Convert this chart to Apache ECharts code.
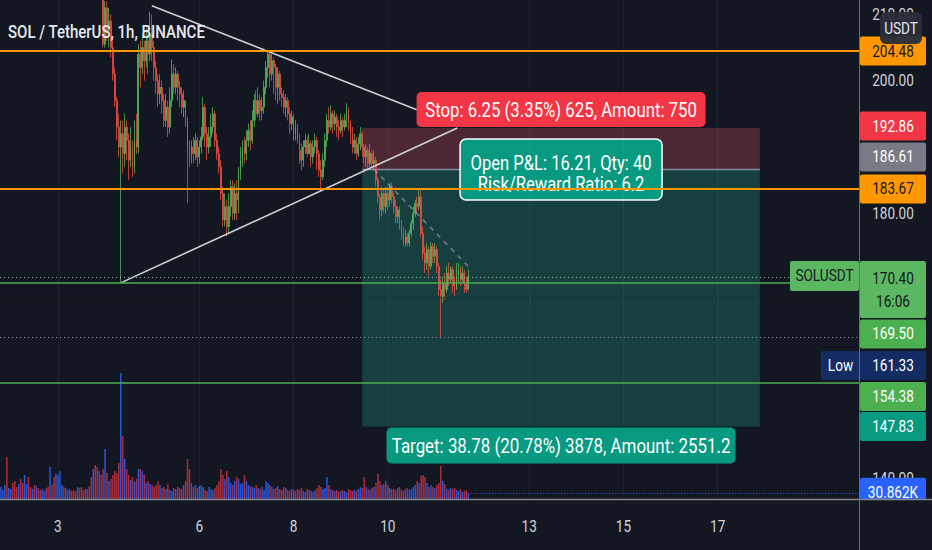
<!DOCTYPE html>
<html><head><meta charset="utf-8">
<script src="https://cdn.jsdelivr.net/npm/echarts@6/dist/echarts.min.js"></script>
<style>html,body{margin:0;padding:0;background:#131722;}#c{width:932px;height:550px;}</style>
</head><body><div id="c"></div>
<script>
// ---------------- data ----------------
const symbolTitle = 'SOL / TetherUS, 1h, BINANCE';
const firstOpen = 227;
const closes = [
228,230,231,229,232,233,231,230,228,229,
227,226,228,229,227,225,226,224,225,223,
222,224,225,223,221,222,220,219,221,222,
224,226,225,227,228,226,225,223,222,224,
223,221,220,218,219,217,216,218,217,215,
216,214,205.5,211,207.5,209,205,201,197,193,
190,192,189,193,191,188,190,187,191,190,
204,202,205,203,206,204,207,205,202,200,
198,199,197,194,196,193,197,201,199,201,
199,198,196,197,194,190,188.5,190,189,191,
188.5,190,191.5,196,192,190,191.5,193,195,191,
189,187,183,179,181,178,181,184,180,183,
182,186,188,190,189,191,192.5,191,194,197,
195,197,195.5,196,199,202,204,201,203,202,
199,201,198,197.5,196,197,195,193.5,194.5,192,
193,191,189.5,188,190,191,189,190.5,188.5,190,
191,189,186.5,185.5,188,191,194,193,195,193.5,
194.5,193,192.5,194,193,194,195.5,193.5,192,190,
191,189,190.5,192,190,188.5,189.5,187.5,189,187.5,
188,185,182.5,180.5,183,181,183,182,184,182.5,
181,179.5,180.5,178,177,175.5,176.5,175.5,177,178.5,
180,181.5,181,182.5,177,174,172.5,174.5,172,175,
173.5,174.5,172,168.5,167.5,169.5,168.5,171,170,171.5,
169,168.5,170.5,171.5,170,171,169.5,168.5,170.4];
const highs = [
230,232,233,232,234,235,234,232,230,231,
230,228,229,231,230,228,227,226,227,226,
224,225,227,226,224,223,223,221,222,224,
226,228,227,229,230,229,227,226,224,225,
225,224,222,221,220,220,218,219,219,218,
217,217,215,212,212,211,210,206,202,197.5,
195,194,194,195,194,192,193,191,194,195,
205.5,206,207,206,208,207,210.4,210,206,203,
201,201,200,198,198,197,199,203.2,202.5,202,
201.5,200,199,198.5,197,194.5,191,191,191.5,192,
191.5,191,193,197.5,196.5,193,193,195,196,195.5,
192,190,188,184,183,182,183,185,185,184.5,
185,187,190,191,191.5,192.5,193.5,194,195.5,198,
198.5,199,198,197.5,200,203,204.5,204.3,204,203.5,
202.5,202,201.5,199,198.5,198,197.5,196,195.5,195,
194,193.5,192,190.5,191,192,191.5,192,191,191,
192,191.5,189.5,188,189,192,195,196,196.3,195.5,
195.5,195,194,195,194.5,195,196.6,196,194,193,
192,191.5,191.5,193,192.5,190.5,190.5,190,190.5,189.5,
189.5,188.5,185.5,183,184,183.5,184,184,184.5,184.7,
183,182,181,181,179,178,177.5,177,177.5,179,
181,182,182.5,183.6,183.5,178,175,175.5,175,175.6,
175.5,175.5,175,172.5,170,170.5,171,172,172.5,172,
172,170.5,172.5,172.5,172,172,171.5,170.5,171.5];
const lows = [
226,227,229,227,228,231,230,228,226,227,
225,224,225,226,225,223,224,222,223,221,
220,221,223,221,219,219,218,217,218,220,
221,223,224,224,226,225,223,222,220,221,
221,219,218,216,217,215,214,215,215,213.5,
213,213,205,205,206,205,203.5,200,196,191,
188.5,169.5,186,187,188,185,187,185.5,186,189,
189,199,201,200,202,201,203,203,200,198,
196,196.5,195,193,193,191.5,192,196,198,198,
197,196,195,194.5,193,181.5,187,187.5,187.5,188,
187,187.5,189,191,190,188,189,190,192,190,
188,186,182,178,178,176.5,177,179.5,179,179,
179,180,185,187,187.5,188,190,189.5,190.5,193,
194,194.5,194,194,195,198,200.5,199,200,198,
197,196.5,197,196,195,194.5,194,192,192.5,191,
191,190.5,187.5,186.5,187,189,188.5,189,187,187.5,
189,186.5,185.5,183.5,185,187,190,192,192.5,192,
192.5,191.5,191,192,191.5,192.5,193,192.5,190.5,189,
189,188,188.5,189.5,188.5,187.5,187,186.5,187,186.5,
186.5,184,181.5,179,179.5,180,180,180.5,181,181.5,
180,178.5,178.5,177.5,176,175,175,175,175,176.5,
177.5,179.5,180,180.5,176.5,173,171,171.5,170.5,171.5,
172.5,172.5,171,167.5,161.33,166.5,167,168,169,169.5,
168,167.5,168.5,169.5,169,169.5,168,168,168.5];
const volumesK = [
60,45,70,210,55,50,80,90,60,75,
100,80,120,75,110,60,50,70,65,55,
45,50,40,55,60,160,70,110,130,120,
140,70,60,55,45,50,40,45,40,60,
55,60,45,50,50,65,110,150,170,160,
140,120,150,250,130,90,100,120,140,130,
180,630,315,200,150,120,95,110,85,100,
150,150,140,120,80,90,75,70,60,70,
90,70,55,60,50,75,45,40,55,50,
60,55,50,70,90,200,150,80,60,70,
55,65,70,60,45,40,60,50,45,55,
70,90,150,120,100,140,110,80,70,90,
110,100,75,80,120,90,70,65,60,55,
70,55,50,60,45,90,80,70,60,50,
55,65,50,45,60,55,45,40,50,45,
40,50,45,55,40,35,50,45,40,35,
45,55,70,60,50,55,110,70,50,45,
40,45,35,40,45,40,35,50,45,40,
45,40,50,60,55,110,60,50,45,55,
60,80,125,90,70,75,90,70,55,50,
50,45,55,60,45,40,50,55,45,50,
60,70,90,80,115,120,110,80,60,70,
60,55,70,80,165,90,75,50,45,55,
50,55,45,40,50,35,40,45,30.862];
const startTimeUTC = Date.UTC(2021, 11, 1, 19);   // first hourly bar
const slotCount = 438;                            // hourly slots across the pane
const dayTicks = [3, 6, 8, 10, 13, 15, 17];        // time-axis labels (day of month)
const priceTicks = [210, 200, 180, 140];           // plain price-scale labels
const resistanceLevels = [204.48, 183.67];         // orange horizontal lines
const supportLevels = [169.50, 154.38];            // green horizontal lines
const sessionLow = 161.33;
const darkDotLevel = 167.4;
const trendUpper = [[76.8, 211.3], [211.8, 195.6]];
const trendLower = [[61, 169.5], [232.4, 192.86]];
const position = { startIdx: 184, endIdx: 386.5, entry: 186.61, stop: 192.86, target: 147.83 };
const positionPath = [[190, 186.61], [238, 172]];
const stopText = 'Stop: 6.25 (3.35%) 625, Amount: 750';
const pnlLines = ['Open P&L: 16.21, Qty: 40', 'Risk/Reward Ratio: 6.2'];
const targetText = 'Target: 38.78 (20.78%) 3878, Amount: 2551.2';
const countdown = '16:06';
const ticker = 'SOLUSDT';
const quoteCurrency = 'USDT';

// ---------------- build ----------------
const BG = '#131722';
const UP = '#53b458', DOWN = '#ea4a40';
const VOL_UP = 'rgba(41,98,255,0.85)', VOL_DOWN = 'rgba(242,54,69,0.7)';
const FONT = 'Roboto, "Noto Sans", sans-serif';

const categories = [];
for (let k = 0; k < slotCount; k++) {
  const d = new Date(startTimeUTC + k * 3600000);
  categories.push(d.toISOString().slice(0, 13).replace('T', ' ') + ':00');
}
const candleData = closes.map((c, i) => [i === 0 ? firstOpen : closes[i - 1], c, lows[i], highs[i]]);
const isUp = candleData.map(d => d[1] >= d[0]);
const upCandles = candleData.map((d, i) => isUp[i] ? d : '-');
const downCandles = candleData.map((d, i) => isUp[i] ? '-' : d);
const volData = volumesK.map((v, i) => ({ value: v, itemStyle: { color: isUp[i] ? VOL_UP : VOL_DOWN } }));
const pad = n => String(n).padStart(2, '0');
const dayTickIdx = dayTicks.map(d => categories.indexOf('2021-12-' + pad(d) + ' 00:00'));
const lastClose = closes[closes.length - 1];
const lastVol = volumesK[volumesK.length - 1];
const lastIdx = closes.length - 1;

const chart = echarts.init(document.getElementById('c'), null, { renderer: 'svg', width: 932, height: 550 });

const hLine = (v, color, width, type) => ({ yAxis: v, lineStyle: { color, width, type } });
const candleSeries = (data, col, extra) => Object.assign({
  type: 'candlestick', xAxisIndex: 0, yAxisIndex: 0, data, barWidth: 1.35, silent: true, clip: true,
  emphasis: { disabled: true },
  itemStyle: { color: col, color0: col, borderColor: col, borderColor0: col, borderColorDoji: col, borderWidth: 0.8 }
}, extra || {});

chart.setOption({
  backgroundColor: BG,
  animation: false,
  grid: [
    { left: 0, right: 72, top: 0, bottom: 51 },
    { left: 0, right: 72, top: 299, bottom: 51 }
  ],
  xAxis: [
    { type: 'category', gridIndex: 0, data: categories, show: false },
    { type: 'category', gridIndex: 1, data: categories, show: false },
    { type: 'value', gridIndex: 0, min: -0.5, max: slotCount - 0.5, show: false }
  ],
  yAxis: [
    { type: 'value', gridIndex: 0, min: 136.9, max: 212.17, show: false, splitLine: { show: false } },
    { type: 'value', gridIndex: 1, min: 0, max: 1000, show: false, splitLine: { show: false } }
  ],
  series: [
    {
      type: 'bar', xAxisIndex: 1, yAxisIndex: 1, data: volData, barWidth: 1.5, silent: true,
      emphasis: { disabled: true },
      markLine: {
        silent: true, symbol: ['none', 'none'], label: { show: false },
        data: [[{ coord: [lastIdx, lastVol] }, { coord: [slotCount - 1, lastVol] }]],
        lineStyle: { color: '#2962ff', width: 1, type: [1, 2] }
      }
    },
    candleSeries(upCandles, UP),
    candleSeries(downCandles, DOWN, {
      markLine: {
        silent: true, symbol: ['none', 'none'], label: { show: false },
        data: [
          ...dayTickIdx.map(i => ({ xAxis: categories[i], lineStyle: { color: 'rgba(255,255,255,0.045)', width: 1, type: 'solid' } })),
          hLine(darkDotLevel, 'rgba(0,0,0,0.55)', 1, [1, 3]),
          hLine(sessionLow, '#8d909a', 1, [1, 3]),
          hLine(lastClose, 'rgba(160,214,160,0.85)', 1, [1, 3]),
          ...supportLevels.map(v => hLine(v, '#4caf50', 1.5, 'solid')),
          ...resistanceLevels.map(v => hLine(v, '#ff9800', 2, 'solid'))
        ]
      }
    }),
    {
      type: 'line', xAxisIndex: 2, yAxisIndex: 0, data: trendUpper, symbol: 'none', silent: true,
      lineStyle: { color: 'rgba(225,228,235,0.9)', width: 1.6 }
    },
    {
      type: 'line', xAxisIndex: 2, yAxisIndex: 0, data: trendLower, symbol: 'none', silent: true,
      lineStyle: { color: 'rgba(225,228,235,0.9)', width: 1.6 }
    },
    {
      type: 'line', xAxisIndex: 2, yAxisIndex: 0, data: positionPath, symbol: 'none', silent: true,
      lineStyle: { color: 'rgba(170,174,184,0.6)', width: 1.5, type: [5, 5] }
    }
  ]
});

// ---------------- overlay drawings (positions from the chart's own scales) ----------------
const px = v => chart.convertToPixel({ xAxisIndex: 2 }, v);
const py = v => chart.convertToPixel({ yAxisIndex: 0 }, v);
const pvol = v => chart.convertToPixel({ yAxisIndex: 1 }, v);
const cx = i => chart.convertToPixel({ xAxisIndex: 0 }, categories[i]);

function txt(x, y, text, size, fill, o = {}) {
  return { type: 'text', x, y, scaleX: o.sx || 0.8, z: o.z == null ? 10 : o.z, silent: true,
    style: { text, x: 0, y: 0, fill, fontSize: size, fontFamily: FONT, fontWeight: o.weight || 'normal',
      align: o.align || 'center', verticalAlign: 'middle' } };
}
function rect(x, y, w, h, fill, o = {}) {
  return { type: 'rect', z: o.z == null ? 9 : o.z, silent: true, shape: { x, y, width: w, height: h, r: o.r || 0 },
    style: { fill, stroke: o.stroke || null, lineWidth: o.lw || 0 } };
}
function seg(x1, y1, x2, y2, stroke, w, z) {
  return { type: 'line', z, silent: true, shape: { x1, y1, x2, y2 }, style: { stroke, lineWidth: w } };
}

const G = [];
const SCALE_X = 860, BOX_W = 66, LBL_X = SCALE_X + 33, BOX_H = 29;

// position tool zones
const x1 = px(position.startIdx), x2 = px(position.endIdx);
const yS = py(position.stop), yE = py(position.entry), yT = py(position.target);
const mid = (x1 + x2) / 2;
G.push(rect(x1, yS, x2 - x1, yE - yS, '#4a2934', { z: 0 }));
G.push(rect(x1, yE, x2 - x1, yT - yE, '#173f40', { z: 0 }));
G.push(seg(x1, yE, x2, yE, 'rgba(170,174,184,0.75)', 1.5, 0));
// P&L box (under the horizontal lines)
G.push(rect(mid - 101, yS + 11, 202, 61, '#089981', { z: 1, r: 6, stroke: '#ffffff', lw: 1.5 }));
G.push(txt(mid, yS + 35, pnlLines[0], 20, '#ffffff', { z: 1, sx: 0.83 }));
G.push(txt(mid, yS + 56, pnlLines[1], 20, '#ffffff', { z: 1, sx: 0.83 }));
// stop & target labels
G.push(rect(mid - 144.5, yS - 36, 289, 35, '#f23645', { z: 10, r: 5 }));
G.push(txt(mid, yS - 18, stopText, 20, '#ffffff', { z: 11, sx: 0.84 }));
G.push(rect(mid - 174.5, yT + 1, 349, 36, '#089981', { z: 10, r: 5 }));
G.push(txt(mid, yT + 19.5, targetText, 20, '#ffffff', { z: 11, sx: 0.845 }));

// title
G.push(txt(8, 31, symbolTitle, 19, '#e6e8ee', { align: 'left', sx: 0.79, weight: 500 }));

// plain price ticks
priceTicks.forEach(v => G.push(txt(LBL_X, py(v), v.toFixed(2), 17, '#d1d4dc', { z: 8 })));

// coloured price tags (dy = label shift from stacking on the price scale)
const priceTags = [
  { price: resistanceLevels[0], bg: '#ff9800', fg: '#131722', dy: 0 },
  { price: position.stop, bg: '#f23645', fg: '#ffffff', dy: -2 },
  { price: position.entry, bg: '#787b86', fg: '#ffffff', dy: -12.5 },
  { price: resistanceLevels[1], bg: '#ff9800', fg: '#131722', dy: 0 },
  { price: supportLevels[0], bg: '#4caf50', fg: '#ffffff', dy: 51 },
  { price: sessionLow, bg: '#132c63', fg: '#ffffff', dy: 28.5, side: 'Low' },
  { price: supportLevels[1], bg: '#4caf50', fg: '#ffffff', dy: 13.5 },
  { price: position.target, bg: '#089981', fg: '#ffffff', dy: 0 }
];
priceTags.forEach(t => {
  const y = py(t.price) + t.dy;
  G.push(rect(SCALE_X, y - BOX_H / 2, BOX_W, BOX_H, t.bg, { r: 2 }));
  G.push(txt(LBL_X, y, t.price.toFixed(2), 17, t.fg));
  if (t.side) {
    G.push(rect(SCALE_X - 39, y - BOX_H / 2, 39, BOX_H, t.bg, { r: 2 }));
    G.push(txt(SCALE_X - 19.5, y, t.side, 17, t.fg));
  }
});
// last price with countdown and ticker
const yL = py(lastClose);
G.push(rect(SCALE_X, yL - 16, BOX_W, 57, '#5cb860', { r: 2 }));
G.push(txt(LBL_X, yL + 2, lastClose.toFixed(2), 17, '#131722'));
G.push(txt(LBL_X, yL + 25, countdown, 17, '#131722'));
G.push(rect(SCALE_X - 70, yL - 16, 69, 30, '#5cb860', { r: 2 }));
G.push(txt(SCALE_X - 35.5, yL - 1, ticker, 17, '#131722'));
// volume tag
const yV = pvol(lastVol);
G.push(rect(SCALE_X, yV - 15, BOX_W, 29, '#2962ff', { r: 2 }));
G.push(txt(LBL_X, yV, lastVol.toFixed(3) + 'K', 17, '#ffffff'));
// currency badge
G.push(rect(880, 12, 42, 32, 'rgba(42,46,57,0.96)', { z: 12, r: 6 }));
G.push(txt(901, 28, quoteCurrency, 17, '#e6e8ee', { z: 13 }));

// time scale area + frame
G.push(rect(0, 500, 932, 50, BG, { z: 11 }));
G.push(seg(0, 499.5, 932, 499.5, '#84878f', 1.5, 12));
G.push(seg(SCALE_X - 0.5, 0, SCALE_X - 0.5, 550, '#6a6d78', 1, 12));
dayTickIdx.forEach((i, k) => G.push(txt(cx(i), 526, String(dayTicks[k]), 17, '#d1d4dc', { z: 12 })));

chart.setOption({ graphic: { elements: G } });
</script>
</body></html>
